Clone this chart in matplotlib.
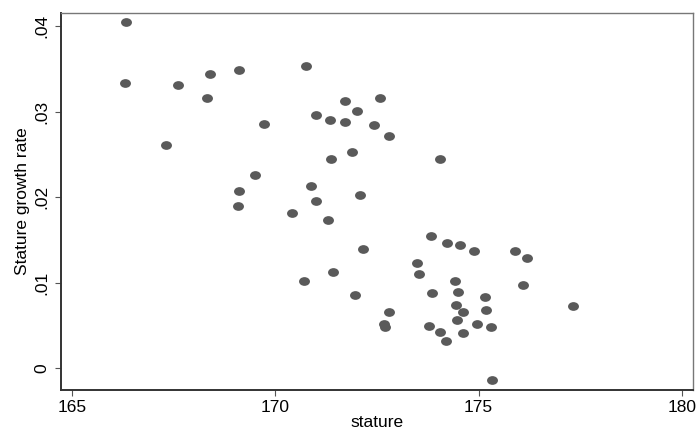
import matplotlib.pyplot as plt
import numpy as np
from matplotlib.path import Path

# stature (cm) and stature growth rate
stature = [166.32, 166.30, 167.61, 168.39, 168.31, 169.10, 170.75, 167.31,
           169.71, 169.50, 169.10, 169.08, 170.40, 170.87, 170.99, 171.71,
           172.57, 172.01, 171.00, 171.35, 171.71, 172.42, 172.80, 171.88,
           171.38, 174.05, 172.08, 171.30, 173.84, 174.22, 174.55, 174.88,
           172.15, 173.48, 173.54, 171.43, 170.71, 174.41, 174.50, 173.85,
           171.96, 174.44, 174.62, 172.79, 172.67, 172.69, 174.47, 174.97,
           173.78, 174.06, 174.61, 174.19, 175.89, 176.20, 176.08, 175.16,
           175.19, 177.33, 175.30, 175.32]
growth = [0.0405, 0.0334, 0.0331, 0.0344, 0.0316, 0.0349, 0.0353, 0.0261,
          0.0285, 0.0226, 0.0207, 0.0190, 0.0181, 0.0213, 0.0195, 0.0313,
          0.0316, 0.0301, 0.0296, 0.0290, 0.0288, 0.0284, 0.0272, 0.0253,
          0.0245, 0.0245, 0.0203, 0.0173, 0.0155, 0.0147, 0.0144, 0.0137,
          0.0139, 0.0123, 0.0110, 0.0112, 0.0102, 0.0102, 0.0089, 0.0088,
          0.0086, 0.0074, 0.0066, 0.0066, 0.0052, 0.0048, 0.0056, 0.0052,
          0.0050, 0.0042, 0.0041, 0.0032, 0.0137, 0.0129, 0.0097, 0.0083,
          0.0068, 0.0073, 0.0048, -0.0014]

xticks = [165, 170, 175, 180]
yticks = [0, 0.01, 0.02, 0.03, 0.04]
ylabels = ["0", ".01", ".02", ".03", ".04"]

plt.rcParams["font.family"] = ["Liberation Sans", "DejaVu Sans"]

# slightly wide ellipse marker like Stata's
circ = Path.unit_circle()
ell = Path(circ.vertices * np.array([1.25, 1.0]), circ.codes)

fig = plt.figure(figsize=(6.96, 4.32), dpi=100)
ax = fig.add_axes([61 / 696, 42 / 432, 632 / 696, 377.3 / 432])

ax.scatter(stature, growth, marker=ell, s=62, color="#5a5a5a", linewidths=0)

ax.set_xlim(164.73, 180.27)
ax.set_ylim(-0.00254, 0.04157)
ax.set_xticks(xticks)
ax.set_xticklabels([str(t) for t in xticks])
ax.set_yticks(yticks)
ax.set_yticklabels(ylabels, rotation=90, va="center")

ax.tick_params(direction="out", length=4.5, width=0.8, color="#555555",
               labelsize=12.5)
ax.tick_params(axis="x", pad=3)
ax.tick_params(axis="y", pad=4)
ax.set_xlabel("stature", fontsize=12.5, labelpad=0)
ax.set_ylabel("Stature growth rate", fontsize=12.5, labelpad=3)

for side in ["left", "bottom"]:
    ax.spines[side].set_color("#333333")
    ax.spines[side].set_linewidth(1.4)
for side in ["top", "right"]:
    ax.spines[side].set_color("#777777")
    ax.spines[side].set_linewidth(1.0)

plt.savefig("out.png", dpi=100)
plt.close()
